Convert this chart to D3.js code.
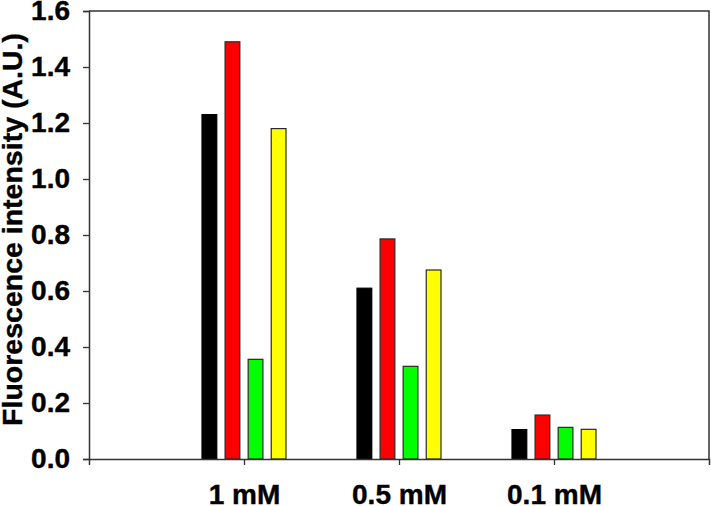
<!DOCTYPE html>
<html>
<head>
<meta charset="utf-8">
<script src="https://cdn.jsdelivr.net/npm/d3@7"></script>
<style>
  body { margin: 0; background: #fff; }
  svg { display: block; font-family: "Liberation Sans", Arial, sans-serif; font-weight: bold; }
</style>
</head>
<body>
<div id="chart"></div>
<script>
// chart data
const categories = ['1 mM', '0.5 mM', '0.1 mM'];
const seriesNames = ['black', 'red', 'green', 'yellow'];
const seriesColors = ['#000000', '#ff0000', '#00ff00', '#ffff00'];
const blackValues = [1.23, 0.61, 0.105];
const redValues = [1.49, 0.786, 0.157];
const greenValues = [0.356, 0.331, 0.113];
const yellowValues = [1.18, 0.675, 0.106];
const yTicks = [0, 0.2, 0.4, 0.6, 0.8, 1.0, 1.2, 1.4, 1.6];

const seriesValues = [blackValues, redValues, greenValues, yellowValues];

const width = 711, height = 506;
const margin = { top: 11, right: 2, bottom: 47, left: 89 };

const svg = d3.select('#chart')
    .append('svg')
    .attr('width', width)
    .attr('height', height);

// scales
const x = d3.scalePoint()
    .domain(categories)
    .range([margin.left, width - margin.right])
    .padding(1);

const xInner = d3.scaleBand()
    .domain(seriesNames)
    .range([-42, 42])
    .paddingInner(0.36);

const y = d3.scaleLinear()
    .domain([0, 1.6])
    .range([height - margin.bottom, margin.top]);

// bars
const barData = [];
categories.forEach((c, i) => {
    seriesNames.forEach((s, j) => {
        barData.push({ cat: c, series: s, value: seriesValues[j][i], color: seriesColors[j] });
    });
});

svg.append('g')
    .selectAll('rect')
    .data(barData)
    .enter()
    .append('rect')
    .attr('x', d => x(d.cat) + xInner(d.series))
    .attr('y', d => y(d.value))
    .attr('width', xInner.bandwidth())
    .attr('height', d => y(0) - y(d.value))
    .attr('fill', d => d.color)
    .attr('stroke', d => d.series === 'black' ? '#000' : '#2a2a2a')
    .attr('stroke-width', 1.2);

// frame (top and right)
svg.append('path')
    .attr('d', `M${margin.left},${y(1.6)}H${width - margin.right}V${y(0)}`)
    .attr('fill', 'none')
    .attr('stroke', '#333')
    .attr('stroke-width', 1.5);

// y axis
const yAxis = svg.append('g')
    .attr('transform', `translate(${margin.left},0)`)
    .call(d3.axisLeft(y).tickValues(yTicks).tickFormat(d3.format('.1f')).tickSize(6).tickPadding(13));

// x axis
const xAxis = svg.append('g')
    .attr('transform', `translate(0,${y(0)})`)
    .call(d3.axisBottom(x).tickSize(6).tickPadding(19));

[yAxis, xAxis].forEach(ax => {
    ax.select('.domain').attr('stroke', '#333').attr('stroke-width', 1.5);
    ax.selectAll('.tick line').attr('stroke', '#333').attr('stroke-width', 1.3);
    ax.selectAll('.tick text')
        .attr('fill', '#000')
        .attr('stroke', '#000')
        .attr('stroke-width', 0.4)
        .style('font-family', '"Liberation Sans", Arial, sans-serif')
        .style('font-weight', 'bold')
        .style('font-size', '28px');
});

// y axis title, sized to span the same length as in the figure
const titleTop = 33, titleBottom = 426;
const title = svg.append('text')
    .attr('transform', `translate(22,${(titleTop + titleBottom) / 2}) rotate(-90)`)
    .attr('text-anchor', 'middle')
    .attr('fill', '#000')
    .attr('stroke', '#000')
    .attr('stroke-width', 0.4)
    .style('font-size', '27px')
    .text('Fluorescence intensity (A.U.)');
const titleLen = title.node().getComputedTextLength();
title.style('font-size', (27 * (titleBottom - titleTop) / titleLen) + 'px');
</script>
</body>
</html>
